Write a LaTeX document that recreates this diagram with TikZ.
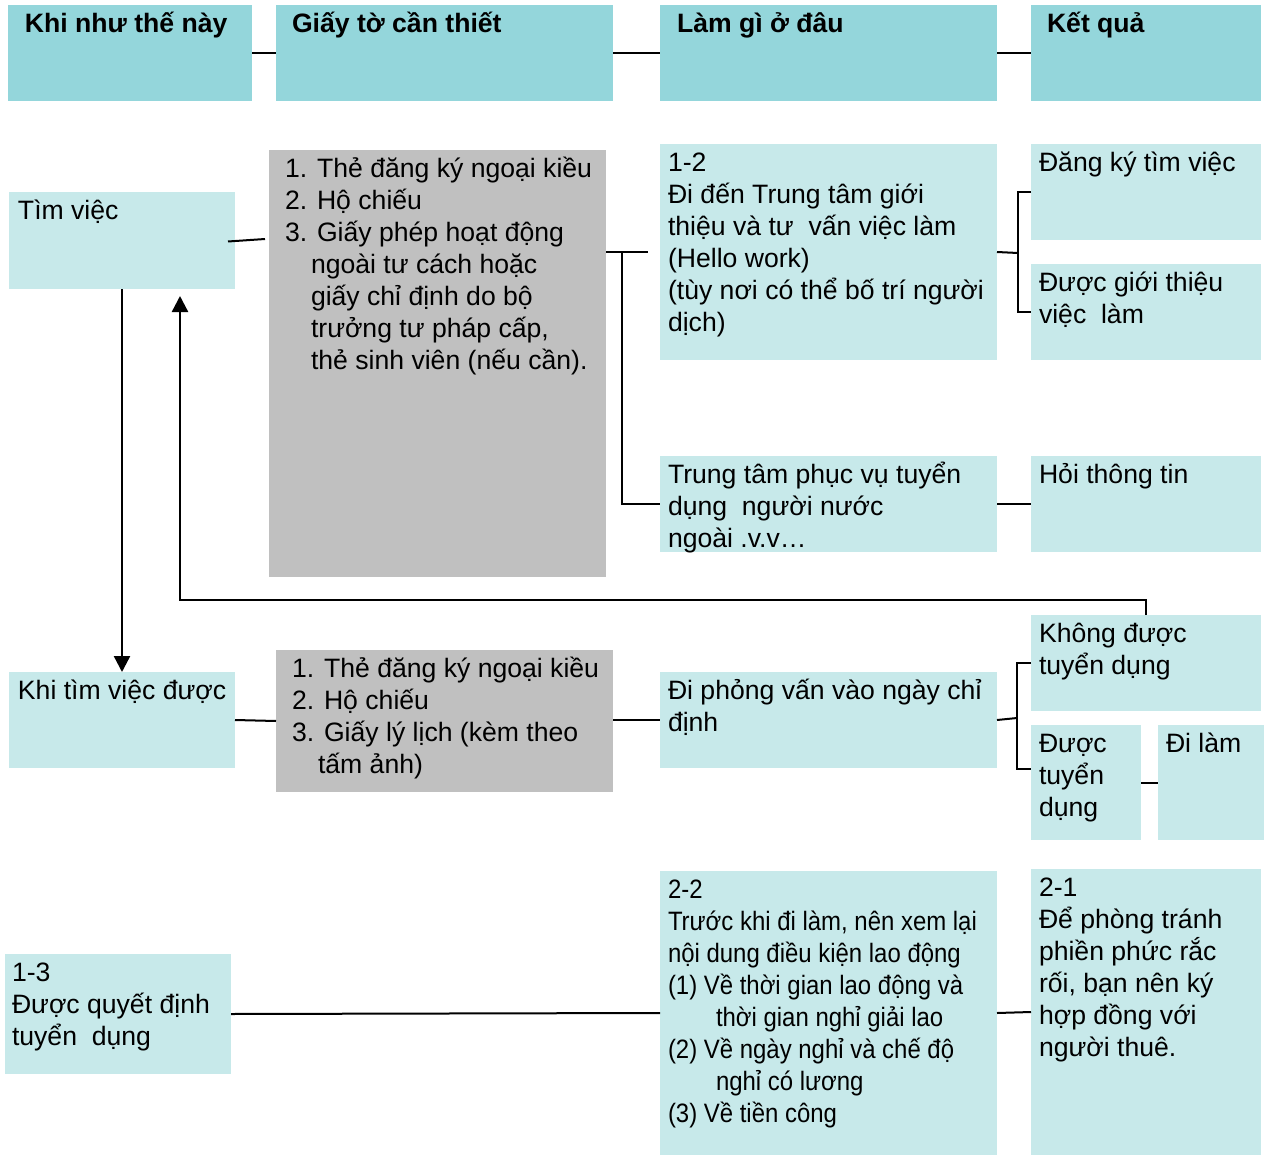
\documentclass[tikz,border=0pt]{standalone}
\usepackage{fontspec}
\usepackage{graphicx}
\setmainfont{Liberation Sans}
\usetikzlibrary{fit,arrows.meta}
\definecolor{hdr}{HTML}{94D6DB}
\definecolor{lite}{HTML}{C7E9EA}
\definecolor{gry}{HTML}{C0C0C0}
\newcommand\st{\rule{0pt}{13.7pt}}
\newcommand\ind[1]{\hspace*{#1pt}}
\newcommand\cl[1]{\scalebox{0.9}[1]{#1}}
% name, style, x1, y1, x2, y2, pad, text
\newcommand\mkbox[8]{%
  \node[#2, fit={(#3,#4) (#5,#6)}] (#1) {};
  \node[txt] (#1-t) at ([shift={(#7,0)}]#1.north west) {\st#8};%
}
\tikzset{
  box/.style={inner sep=0pt, outer sep=0pt, draw=none},
  hbox/.style={box, fill=hdr},
  lbox/.style={box, fill=lite},
  gbox/.style={box, fill=gry},
  txt/.style={anchor=north west, inner sep=0pt, outer sep=0pt, align=left,
    font=\fontsize{13.3}{16}\selectfont},
  con/.style={line width=1pt},
  arr/.style={line width=1.2pt, -{Triangle[length=8pt,width=8pt]}}
}
\begin{document}
\begin{tikzpicture}[x=0.5pt,y=-0.5pt]
\useasboundingbox (0,0) rectangle (1264,1156);
% headers
\mkbox{h1}{hbox}{8}{5}{252}{101}{17}{\bfseries Khi như thế này}
\mkbox{h2}{hbox}{276}{5}{613}{101}{16}{\bfseries Giấy tờ cần thiết}
\mkbox{h3}{hbox}{660}{5}{997}{101}{17}{\bfseries Làm gì ở đâu}
\mkbox{h4}{hbox}{1031}{5}{1261}{101}{16}{\bfseries Kết quả}
% row 1
\mkbox{tim}{lbox}{9}{192}{235}{289}{9}{Tìm việc}
\mkbox{g1}{gbox}{269}{150}{606}{577}{16}{1. Thẻ đăng ký ngoại kiều\\2. Hộ chiếu\\3. Giấy phép hoạt động\\\ind{13}ngoài tư cách hoặc\\\ind{13}giấy chỉ định do bộ\\\ind{13}trưởng tư pháp cấp,\\\ind{13}thẻ sinh viên (nếu cần).}
\mkbox{d12}{lbox}{660}{144}{997}{360}{8}{1-2\\Đi đến Trung tâm giới\\thiệu và tư~ vấn việc làm\\(Hello work)\\(tùy nơi có thể bố trí người\\dịch)}
\mkbox{dk}{lbox}{1031}{144}{1261}{240}{8}{Đăng ký tìm việc}
\mkbox{dg}{lbox}{1031}{264}{1261}{360}{8}{Được giới thiệu\\việc~ làm}
\node[lbox, fit={(660,456) (997,552)}] (tt) {};
\begin{scope}
\clip (tt.north west) rectangle (tt.south east);
\node[txt] (tt-t) at ([shift={(8,0)}]tt.north west) {\st Trung tâm phục vụ tuyển\\dụng~ người nước\\ngoài .v.v…};
\end{scope}
\mkbox{hoi}{lbox}{1031}{456}{1261}{552}{8}{Hỏi thông tin}
% row 2
\mkbox{khi}{lbox}{9}{672}{235}{768}{9}{Khi tìm việc được}
\mkbox{g2}{gbox}{276}{650}{613}{792}{16}{1. Thẻ đăng ký ngoại kiều\\2. Hộ chiếu\\3. Giấy lý lịch (kèm theo\\\ind{13}tấm ảnh)}
\mkbox{dpv}{lbox}{660}{672}{997}{768}{8}{Đi phỏng vấn vào ngày chỉ\\định}
\mkbox{kd}{lbox}{1031}{615}{1261}{711}{8}{Không được\\tuyển dụng}
\mkbox{dt}{lbox}{1031}{725}{1141}{840}{8}{Được\\tuyển\\dụng}
\mkbox{dl}{lbox}{1158}{725}{1264}{840}{8}{Đi làm}
% row 3
\mkbox{q13}{lbox}{5}{954}{231}{1074}{7}{1-3\\Được quyết định\\tuyển~ dụng}
\mkbox{d22}{lbox}{660}{871}{997}{1155}{8}{\cl{2-2}\\\cl{Trước khi đi làm, nên xem lại}\\\cl{nội dung điều kiện lao động}\\\cl{(1) Về thời gian lao động và}\\\ind{24}\cl{thời gian nghỉ giải lao}\\\cl{(2) Về ngày nghỉ và chế độ}\\\ind{24}\cl{nghỉ có lương}\\\cl{(3) Về tiền công}}
\mkbox{d21}{lbox}{1031}{869}{1261}{1155}{8}{2-1\\Để phòng tránh\\phiền phức rắc\\rối, bạn nên ký\\hợp đồng với\\người thuê.}
% header connectors
\draw[con] (h1.east) -- (h2.west);
\draw[con] (h2.east) -- (h3.west);
\draw[con] (h3.east) -- (h4.west);
% row 1 connectors
\draw[con] ([shift={(-7,1)}]tim.east) -- ([shift={(-4,89)}]g1.north west);
\draw[con] (g1.east |- d12.west) -- ([xshift=-6]d12.west);
\path (g1.east |- d12.west) ++(16,0) coordinate (f1);
\draw[con] (f1) |- (tt.west);
\draw[con] (d12.east) -- ++(21,1) coordinate (f2);
\draw[con] (dk.west) -| (f2 |- dg.west) -- (dg.west);
\draw[con] (tt.east) -- (hoi.west);
% arrows
\draw[arr] (tim.south) -- (khi.north);
\draw[arr] (kd.north) -- ++(0,-15) -| ([shift={(58,7)}]tim.south);
% row 2 connectors
\draw[con] (khi.east) -- (g2.west);
\draw[con] (g2.east |- dpv.west) -- (dpv.west);
\draw[con] (dpv.east) -- ++(20,-2) coordinate (f3);
\draw[con] (kd.west) -| ([yshift=7pt]f3 |- dt.west) -- ([yshift=7pt]dt.west);
\draw[con] (dt.east) -- (dl.west);
% row 3 connectors
\draw[con] (q13.east) -- (d22.west);
\draw[con] (d22.east) -- (d21.west);
\end{tikzpicture}
\end{document}
